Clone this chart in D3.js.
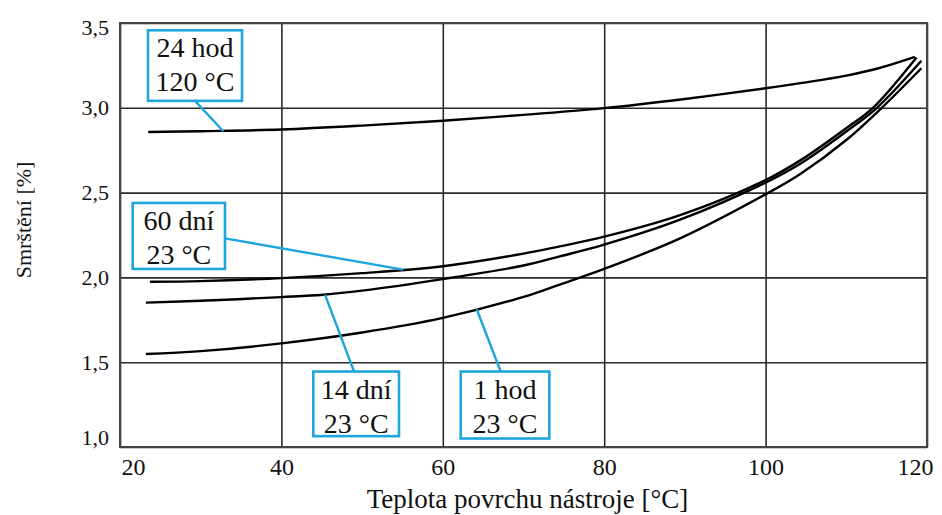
<!DOCTYPE html>
<head>
  <meta charset="utf-8">
  <script src="https://d3js.org/d3.v7.min.js"></script>
  <style>
    body { margin: 0; background: #fff; }
    text { fill: #111; }
    .curve { fill: none; stroke: #000; stroke-width: 2.4px; }
    .grid line { stroke: #2a2a2a; stroke-width: 1.6px; }
    .leader { stroke: #1ea5dd; stroke-width: 2.4px; }
    .box { fill: #fff; stroke: #1ea5dd; stroke-width: 2.6px; }
  </style>
</head>

<body>
  <script>

    // Temperature [°C] and shrinkage [%]
    var temp24h = [23.5, 30, 40, 50, 60, 70, 80, 90, 100, 105, 110, 114, 118.5];
    var shrink24h = [2.857, 2.862, 2.872, 2.895, 2.924, 2.958, 2.998, 3.052, 3.115, 3.15, 3.19, 3.233, 3.30];

    var temp60d = [23.7, 30, 40, 50, 60, 70, 74.5, 80, 89.4, 100, 104.3, 110, 113.3, 118.7];
    var shrink60d = [1.974, 1.978, 1.996, 2.025, 2.066, 2.14, 2.183, 2.24, 2.367, 2.574, 2.69, 2.88, 3.0, 3.297];

    var temp14d = [23.2, 30, 40, 45.2, 50, 60, 70, 74.5, 80, 89.4, 100, 104.3, 110, 113.8, 119.3];
    var shrink14d = [1.851, 1.862, 1.884, 1.898, 1.922, 1.99, 2.07, 2.124, 2.193, 2.34, 2.559, 2.67, 2.86, 3.0, 3.277];

    var temp1h = [23.2, 30, 40, 50, 60, 70, 74.5, 80, 89.4, 100, 104.3, 110, 114.4, 119.3];
    var shrink1h = [1.548, 1.565, 1.611, 1.675, 1.761, 1.885, 1.958, 2.05, 2.23, 2.49, 2.61, 2.81, 3.0, 3.233];

    var xTicks = [20, 40, 60, 80, 100, 120];
    var yTicks = [1.0, 1.5, 2.0, 2.5, 3.0, 3.5];

    // label texts, boxes [x0, x1, yTop, yBottom] and leaders [x1, y1, x2, y2] in data units
    var labelLines = [["24 hod", "120 °C"], ["60 dní", "23 °C"], ["14 dní", "23 °C"], ["1 hod", "23 °C"]];
    var labelBoxes = [[23.47, 35.12, 3.457, 3.041], [21.57, 33.01, 2.439, 2.05], [43.95, 54.57, 1.445, 1.064], [62.22, 73.2, 1.445, 1.05]];
    var leaders = [[29.3, 3.041, 32.8, 2.862], [33.01, 2.23, 55.09, 2.046], [49.0, 1.445, 45.4, 1.898], [67.17, 1.445, 64.2, 1.812]];

    var serif = "'Liberation Serif', 'Times New Roman', Times, 'DejaVu Serif', serif";

    var svg = d3.select("body").append("svg")
      .attr("width", 942)
      .attr("height", 515);

    var margin = {top: 23, left: 120};
    var width = 807;
    var height = 424;

    var czech = d3.formatLocale({decimal: ",", thousands: " ", grouping: [3], currency: ["", " Kč"]});
    var fmt = czech.format(".1f");

    var x = d3.scaleLinear().domain([20, 120]).range([0, width]);
    var y = d3.scaleLinear().domain([1, 3.5]).range([height, 0]);

    var g = svg.append("g")
      .attr("transform", "translate(" + margin.left + "," + margin.top + ")");

    // grid
    var xAxis = g.append("g")
      .attr("class", "grid")
      .attr("transform", "translate(0," + height + ")")
      .call(d3.axisBottom(x).tickValues(xTicks).tickSize(-height).tickFormat(d3.format("d")));
    xAxis.select(".domain").remove();
    xAxis.attr("font-family", null);
    xAxis.selectAll("text")
      .attr("y", 11)
      .attr("dy", "0.71em")
      .attr("dx", function(d) { return d == 20 ? 13 : (d == 120 ? -12 : 0); })
      .style("font-family", serif)
      .style("font-size", "24px");

    var yAxis = g.append("g")
      .attr("class", "grid")
      .call(d3.axisLeft(y).tickValues(yTicks).tickSize(-width).tickFormat(fmt));
    yAxis.select(".domain").remove();
    yAxis.attr("font-family", null);
    yAxis.selectAll("text")
      .attr("x", -11)
      .attr("dy", function(d) { return d == 1.0 ? "-0.1em" : (d == 3.5 ? "0.5em" : "0.32em"); })
      .style("font-family", serif)
      .style("font-size", "22px");

    g.append("rect")
      .attr("width", width)
      .attr("height", height)
      .style("fill", "none")
      .style("stroke", "#444")
      .style("stroke-width", "2px");

    // curves
    var series = [[temp24h, shrink24h], [temp60d, shrink60d], [temp14d, shrink14d], [temp1h, shrink1h]];
    var line = d3.line()
      .x(function(d) { return x(d[0]); })
      .y(function(d) { return y(d[1]); })
      .curve(d3.curveCatmullRom.alpha(0.5));

    g.selectAll(".curve").data(series).enter().append("path")
      .attr("class", "curve")
      .attr("d", function(s) { return line(d3.zip(s[0], s[1])); });

    // labels
    g.selectAll(".leader").data(leaders).enter().append("line")
      .attr("class", "leader")
      .attr("x1", function(d) { return x(d[0]); })
      .attr("y1", function(d) { return y(d[1]); })
      .attr("x2", function(d) { return x(d[2]); })
      .attr("y2", function(d) { return y(d[3]); });

    var labels = g.selectAll(".label").data(labelBoxes).enter().append("g")
      .attr("class", "label");

    labels.append("rect")
      .attr("class", "box")
      .attr("x", function(d) { return x(d[0]); })
      .attr("y", function(d) { return y(d[2]); })
      .attr("width", function(d) { return x(d[1]) - x(d[0]); })
      .attr("height", function(d) { return y(d[3]) - y(d[2]); });

    labels.each(function(d, i) {
      var cx = (x(d[0]) + x(d[1])) / 2;
      d3.select(this).selectAll("text").data(labelLines[i]).enter().append("text")
        .attr("x", cx)
        .attr("y", function(t, j) { return y(d[2]) + 27 + j * 34; })
        .attr("text-anchor", "middle")
        .style("font-family", serif)
        .style("font-size", "28px")
        .text(function(t) { return t; });
    });

    // axis titles
    svg.append("text")
      .attr("x", margin.left + width / 2 + 4)
      .attr("y", 508)
      .attr("text-anchor", "middle")
      .style("font-family", serif)
      .style("font-size", "27px")
      .text("Teplota povrchu nástroje [°C]");

    svg.append("text")
      .attr("transform", "translate(31,220) rotate(-90)")
      .attr("text-anchor", "middle")
      .style("font-family", serif)
      .style("font-size", "22px")
      .text("Smrštění [%]");

  </script>
</body>
